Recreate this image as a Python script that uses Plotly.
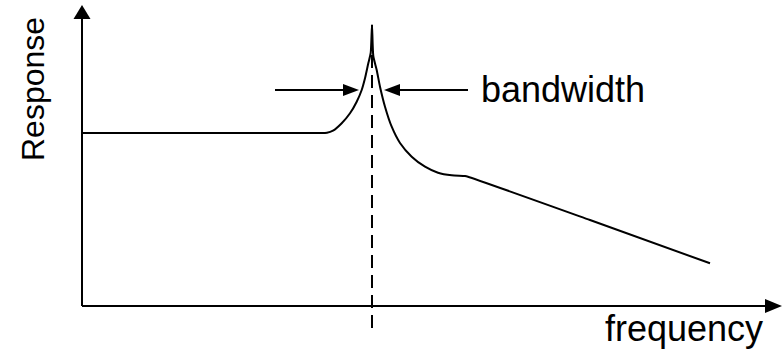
import plotly.graph_objects as go

# ---- data (arbitrary units; schematic resonance response) ----
frequency = [82, 200, 318, 327, 333, 341.7, 350, 356.7, 361.7, 365, 368.3, 370.7, 372,
             373.3, 376.7, 380, 385, 391.7, 400, 411.7, 425, 438, 451.7, 465, 468, 590, 710]
response = [216, 216, 216, 216.2, 218.3, 225.7, 235.7, 247.3, 259, 270.7, 285.7, 296, 324,
            293, 279, 262.3, 242.3, 222.3, 206, 192.3, 182.3, 176.3, 173.7, 173, 172.3, 129, 85.7]

resonance_freq = 372
axis_origin = (82, 43)
x_axis_end = 782
y_axis_end = 344
bw_level = 259
bw_left_tail, bw_left_tip = 275, 359
bw_right_tip, bw_right_tail = 384, 468

labels = {"x": "frequency", "y": "Response", "bw": "bandwidth"}

FONT = "Liberation Sans, Arial, sans-serif"
LW = 2


def head(tip_x, tip_y, dx, dy, length, width):
    # triangle arrowhead pointing in direction (dx, dy)
    bx, by = tip_x - dx * length, tip_y - dy * length
    px, py = -dy * width / 2, dx * width / 2
    return (f"M{tip_x},{tip_y} L{bx + px},{by + py} L{bx - px},{by - py} Z")


fig = go.Figure()
fig.add_trace(go.Scatter(x=frequency, y=response, mode="lines",
                         line=dict(color="black", width=LW, shape="spline", smoothing=0.6),
                         hoverinfo="skip", showlegend=False))

shapes = []
# axes
ox, oy = axis_origin
shapes.append(dict(type="line", x0=ox, y0=oy, x1=x_axis_end - 14, y1=oy,
                   line=dict(color="black", width=LW)))
shapes.append(dict(type="line", x0=ox, y0=oy, x1=ox, y1=y_axis_end - 12,
                   line=dict(color="black", width=LW)))
shapes.append(dict(type="path", path=head(x_axis_end, oy, 1, 0, 17, 14),
                   fillcolor="black", line=dict(width=0)))
shapes.append(dict(type="path", path=head(ox, y_axis_end, 0, 1, 14, 17),
                   fillcolor="black", line=dict(width=0)))
# dashed resonance line
shapes.append(dict(type="line", x0=resonance_freq, y0=21, x1=resonance_freq,
                   y1=response[frequency.index(resonance_freq)],
                   line=dict(color="black", width=LW, dash="13px,7px")))
# bandwidth arrows
shapes.append(dict(type="line", x0=bw_left_tail, y0=bw_level, x1=bw_left_tip - 12, y1=bw_level,
                   line=dict(color="black", width=LW)))
shapes.append(dict(type="path", path=head(bw_left_tip, bw_level, 1, 0, 16, 12),
                   fillcolor="black", line=dict(width=0)))
shapes.append(dict(type="line", x0=bw_right_tail, y0=bw_level, x1=bw_right_tip + 12, y1=bw_level,
                   line=dict(color="black", width=LW)))
shapes.append(dict(type="path", path=head(bw_right_tip, bw_level, -1, 0, 16, 12),
                   fillcolor="black", line=dict(width=0)))

annotations = [
    dict(x=479, y=bw_level + 1, text=labels["bw"], showarrow=False, xanchor="left", yanchor="middle",
         font=dict(family=FONT, size=36, color="black")),
    dict(x=684, y=21, text=labels["x"], showarrow=False, xanchor="center", yanchor="middle",
         font=dict(family=FONT, size=36, color="black")),
    dict(x=33, y=260, text=labels["y"], showarrow=False, textangle=-90, xanchor="center", yanchor="middle",
         font=dict(family=FONT, size=32, color="black")),
]

fig.update_layout(
    width=783, height=349, margin=dict(l=0, r=0, t=0, b=0),
    paper_bgcolor="white", plot_bgcolor="white",
    xaxis=dict(range=[0, 783], visible=False, fixedrange=True),
    yaxis=dict(range=[0, 349], visible=False, fixedrange=True),
    shapes=shapes, annotations=annotations, showlegend=False,
)
fig.write_html("out.html", config={"displayModeBar": False},
               post_script="document.body.style.margin='0';document.body.style.overflow='hidden';")
